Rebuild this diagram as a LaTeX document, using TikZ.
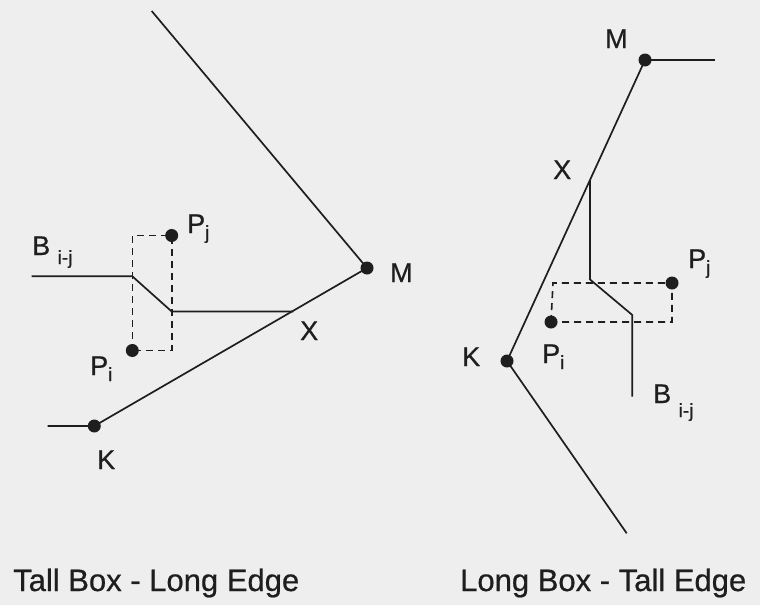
\documentclass[tikz,border=0pt]{standalone}
\usepackage{fontspec}
\setmainfont{Liberation Sans}[FakeBold=0.6]
\definecolor{bg}{HTML}{EEEEEE}
\definecolor{ink}{HTML}{1E1E1E}
\newcommand{\lbl}{\fontsize{27}{27}\selectfont}
\newcommand{\capt}{\fontsize{31}{31}\selectfont}
\newcommand{\sbs}[2]{\raisebox{-#1pt}{\fontsize{19}{19}\selectfont #2}}
\begin{document}
\begin{tikzpicture}[x=1pt,y=-1pt,
  ln/.style={draw=ink,line width=1.7pt},
  dsh/.style={draw=ink,line width=1.6pt,dash pattern=on 7pt off 5pt},
  dot/.style={circle,fill=ink,inner sep=0pt,minimum size=13pt},
  txt/.style={anchor=base west,inner sep=0pt,text=ink}]
\fill[bg] (0,0) rectangle (760,605);
\useasboundingbox (0,0) rectangle (760,605);

% ---------- left diagram ----------
\coordinate (LT) at (151.7,11);
\coordinate (LKs) at (47.7,426);
\coordinate (LX) at (293.3,311.5);
\coordinate (LB1) at (31.7,276.3);
\coordinate (LB2) at (132.3,276.3);
\coordinate (LB3) at (171.7,311.5);
\coordinate (LRa) at (132.3,235.5);
\coordinate (LRb) at (171.7,350.5);
\node[dot] (LM) at (367,268) {};
\node[dot] (LK) at (94.3,426) {};
\node[dot] (LPj) at (171.7,235.5) {};
\node[dot] (LPi) at (132.3,350.5) {};
\draw[dsh] (LPi.center) -- (LRa) -- (LPj.center) -- (LRb) -- cycle;
\draw[ln] (LT) -- (LM.center);
\draw[ln] (LKs) -- (LK.center) -- (LM.center);
\draw[ln] (LB1) -- (LB2) -- (LB3) -- (LX);
\node[txt] (tLM) at (390,282) {\lbl M};
\node[txt] (tLK) at (97,469) {\lbl K};
\node[txt] (tLX) at (300,340) {\lbl X};
\node[txt] (tLPj) at (187,233) {\lbl P\sbs{6}{j}};
\node[txt] (tLPi) at (90,375) {\lbl P\sbs{6}{i}};
\node[txt] (tLB) at (32,255) {\lbl B \sbs{9}{i-j}};
\node[txt] (cL) at (13,591) {\capt Tall Box - Long Edge};

% ---------- right diagram ----------
\coordinate (RMe) at (715,60);
\coordinate (RKe) at (626.7,533.3);
\coordinate (RX) at (590,180);
\coordinate (RB2) at (590,279.5);
\coordinate (RB3) at (632.3,315);
\coordinate (RB4) at (632.3,396.7);
\coordinate (RRa) at (553,283);
\coordinate (RRb) at (672,322);
\node[dot] (RM) at (645,60) {};
\node[dot] (RK) at (507,361) {};
\node[dot] (RPj) at (672,283) {};
\node[dot] (RPi) at (551,322) {};
\draw[dsh] (RPi.center) -- (RRa) -- (RPj.center) -- (RRb) -- cycle;
\draw[ln] (RM.center) -- (RMe);
\draw[ln] (RM.center) -- (RK.center) -- (RKe);
\draw[ln] (RX) -- (RB2) -- (RB3) -- (RB4);
\node[txt] (tRM) at (605,48) {\lbl M};
\node[txt] (tRX) at (553,179) {\lbl X};
\node[txt] (tRK) at (462,366) {\lbl K};
\node[txt] (tRPj) at (688,268) {\lbl P\sbs{6}{j}};
\node[txt] (tRPi) at (542,363) {\lbl P\sbs{6}{i}};
\node[txt] (tRB) at (653,403) {\lbl B \sbs{14}{i-j}};
\node[txt] (cR) at (460,591) {\capt Long Box - Tall Edge};
\end{tikzpicture}
\end{document}
